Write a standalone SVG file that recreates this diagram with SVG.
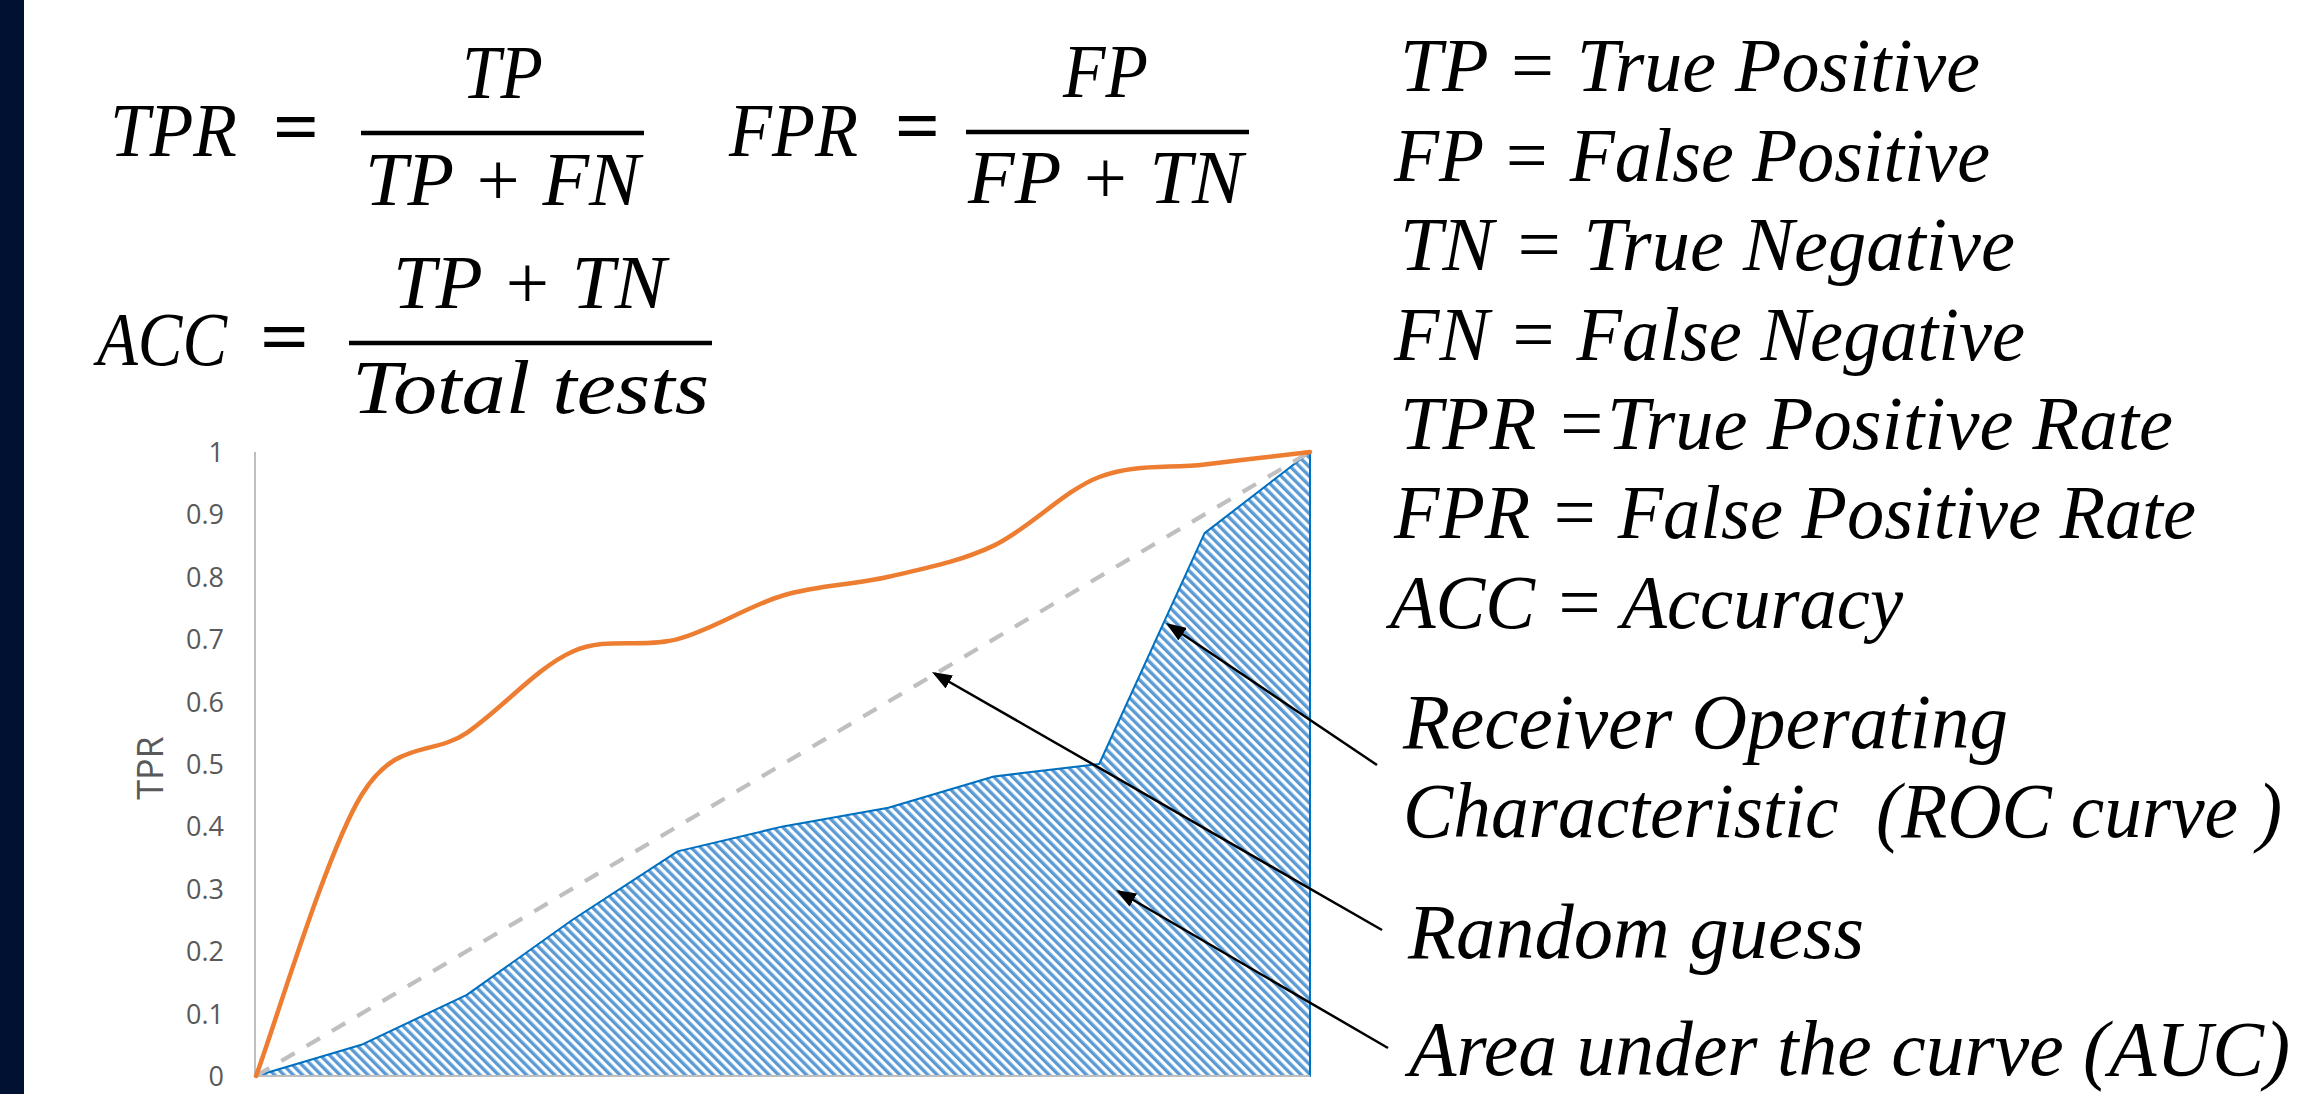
<svg xmlns="http://www.w3.org/2000/svg" width="2311" height="1094" viewBox="0 0 2311 1094">
  <style>
    .math { font-family: "Liberation Serif", "DejaVu Serif", serif; font-style: italic; font-size: 77px; fill: #000; }
    .eq { font-family: "Liberation Serif", "DejaVu Serif", serif; font-weight: bold; font-size: 73px; fill: #000; }
    .legend { font-family: "Liberation Serif", "DejaVu Serif", serif; font-style: italic; font-size: 76px; fill: #000; }
    .note { font-family: "Liberation Serif", "DejaVu Serif", serif; font-style: italic; font-size: 78px; fill: #000; white-space: pre; }
    .tick { font-family: "Open Sans", "Liberation Sans", sans-serif; font-size: 27px; fill: #595959; text-anchor: end; }
    .axtitle { font-family: "Open Sans", "Liberation Sans", sans-serif; font-size: 36px; fill: #595959; text-anchor: middle; }
    .bar { stroke: #000; stroke-width: 4.5; }
    .axis { stroke: #BFBFBF; stroke-width: 2; fill: none; }
    .arrow { stroke: #000; stroke-width: 2.5; fill: none; marker-end: url(#ah); }
  </style>
  <defs>
    <pattern id="stripes" patternUnits="userSpaceOnUse" width="6.6" height="6.6" patternTransform="rotate(-45)">
      <rect x="0" y="0" width="6.6" height="6.6" fill="#FFFFFF"/>
      <rect x="0" y="0" width="3.4" height="6.6" fill="#5B9BD5"/>
    </pattern>
    <marker id="ah" viewBox="0 0 8 6" markerWidth="8" markerHeight="6" refX="6.8" refY="3" orient="auto" markerUnits="strokeWidth">
      <path d="M0,0 L8,3 L0,6 z" fill="#000"/>
    </marker>
  </defs>

  <rect x="0" y="0" width="2311" height="1094" fill="#FFFFFF"/>
  <rect id="side-bar" x="0" y="0" width="24" height="1094" fill="#001132"/>

  <g id="formula-tpr">
    <text class="math" x="110" y="156" textLength="127" lengthAdjust="spacingAndGlyphs">TPR</text>
    <text class="eq" x="273" y="152" textLength="46" lengthAdjust="spacingAndGlyphs">=</text>
    <text class="math" x="462" y="98" textLength="81" lengthAdjust="spacingAndGlyphs">TP</text>
    <line class="bar" x1="361" y1="133" x2="644" y2="133"/>
    <text class="math" x="365" y="205" textLength="275" lengthAdjust="spacingAndGlyphs">TP + FN</text>
  </g>

  <g id="formula-fpr">
    <text class="math" x="729" y="156" textLength="129" lengthAdjust="spacingAndGlyphs">FPR</text>
    <text class="eq" x="895" y="151" textLength="45" lengthAdjust="spacingAndGlyphs">=</text>
    <text class="math" x="1063" y="97" textLength="85" lengthAdjust="spacingAndGlyphs">FP</text>
    <line class="bar" x1="966" y1="132" x2="1249" y2="132"/>
    <text class="math" x="968" y="203" textLength="275" lengthAdjust="spacingAndGlyphs">FP + TN</text>
  </g>

  <g id="formula-acc">
    <text class="math" x="97" y="365" textLength="130" lengthAdjust="spacingAndGlyphs">ACC</text>
    <text class="eq" x="260" y="362" textLength="49" lengthAdjust="spacingAndGlyphs">=</text>
    <text class="math" x="393" y="308" textLength="273" lengthAdjust="spacingAndGlyphs">TP + TN</text>
    <line class="bar" x1="349" y1="343" x2="712" y2="343"/>
    <text class="math" x="352" y="413" textLength="357" lengthAdjust="spacingAndGlyphs">Total tests</text>
  </g>

  <g id="legend">
    <text class="legend" x="1400" y="91" textLength="580" lengthAdjust="spacingAndGlyphs">TP = True Positive</text>
    <text class="legend" x="1394" y="181" textLength="596" lengthAdjust="spacingAndGlyphs">FP = False Positive</text>
    <text class="legend" x="1400" y="270" textLength="615" lengthAdjust="spacingAndGlyphs">TN = True Negative</text>
    <text class="legend" x="1394" y="360" textLength="631" lengthAdjust="spacingAndGlyphs">FN = False Negative</text>
    <text class="legend" x="1400" y="449" textLength="773" lengthAdjust="spacingAndGlyphs">TPR =True Positive Rate</text>
    <text class="legend" x="1394" y="538" textLength="802" lengthAdjust="spacingAndGlyphs">FPR = False Positive Rate</text>
    <text class="legend" x="1390" y="628" textLength="513" lengthAdjust="spacingAndGlyphs">ACC = Accuracy</text>
  </g>

  <g id="chart">
    <g id="auc-area">
      <polygon points="256,1076 361.4,1044.8 466.8,994.9 572.2,920 677.6,851.4 783,826.4 888.4,807.7 993.8,776.5 1099.2,764 1204.6,533.1 1310,452 1310,1076" fill="url(#stripes)" stroke="#0070C0" stroke-width="2" stroke-linejoin="round"/>
    </g>
    <g id="axes">
      <line class="axis" x1="255" y1="452" x2="255" y2="1076"/>
      <line class="axis" x1="255" y1="1076" x2="1310" y2="1076"/>
    </g>
    <g id="ticks">
      <text class="tick" x="224" y="1086">0</text>
      <text class="tick" x="224" y="1024">0.1</text>
      <text class="tick" x="224" y="961">0.2</text>
      <text class="tick" x="224" y="899">0.3</text>
      <text class="tick" x="224" y="836">0.4</text>
      <text class="tick" x="224" y="774">0.5</text>
      <text class="tick" x="224" y="712">0.6</text>
      <text class="tick" x="224" y="649">0.7</text>
      <text class="tick" x="224" y="587">0.8</text>
      <text class="tick" x="224" y="524">0.9</text>
      <text class="tick" x="224" y="462">1</text>
    </g>
    <text id="y-title" class="axtitle" x="163" y="768" transform="rotate(-90 163 768)">TPR</text>
    <g id="random-guess-line">
      <line x1="256" y1="1076" x2="1310" y2="452" stroke="#BFBFBF" stroke-width="4.2" stroke-dasharray="15.5 13.9"/>
    </g>
    <g id="roc-curve">
      <path d="M256,1076 C273.6,1029.2 326.3,852.4 361.4,795.2 C396.5,738.0 431.7,756.7 466.8,732.8 C501.9,708.9 537.1,667.3 572.2,651.7 C607.3,636.1 642.5,648.6 677.6,639.2 C712.7,629.8 747.9,605.9 783,595.5 C818.1,585.1 853.3,585.1 888.4,576.8 C923.5,568.5 958.7,562.2 993.8,545.6 C1028.9,529.0 1064.1,490.5 1099.2,477 C1134.3,463.5 1169.5,468.7 1204.6,464.5 C1239.7,460.3 1292.4,454.1 1310,452" fill="none" stroke="#ED7D31" stroke-width="4.5" stroke-linecap="round"/>
    </g>
  </g>

  <g id="annotations">
    <text class="note" x="1403" y="748" textLength="605" lengthAdjust="spacingAndGlyphs">Receiver Operating</text>
    <text class="note" x="1403" y="837" textLength="879" lengthAdjust="spacingAndGlyphs" xml:space="preserve">Characteristic  (ROC curve )</text>
    <text class="note" x="1408" y="958" textLength="456" lengthAdjust="spacingAndGlyphs">Random guess</text>
    <text class="note" x="1409" y="1075" textLength="881" lengthAdjust="spacingAndGlyphs">Area under the curve (AUC)</text>
  </g>

  <g id="connectors">
    <line class="arrow" x1="1377" y1="765" x2="1168.5" y2="624.7"/>
    <line class="arrow" x1="1382" y1="930" x2="934.6" y2="673.5"/>
    <line class="arrow" x1="1388" y1="1048" x2="1118.6" y2="891.5"/>
  </g>
</svg>
